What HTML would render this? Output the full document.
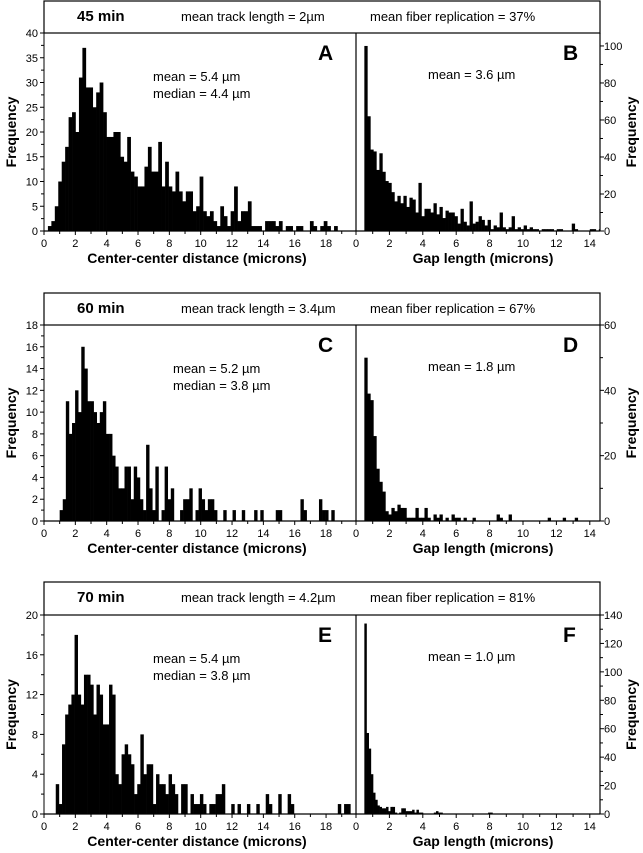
<!DOCTYPE html>
<html><head><meta charset="utf-8"><style>
html,body{margin:0;padding:0;background:#fff;}
svg{display:block;font-family:"Liberation Sans",Arial,sans-serif;}
</style></head><body>
<svg id="fig" width="643" height="853" viewBox="0 0 643 853" xmlns="http://www.w3.org/2000/svg"></svg>
<script>
const aStart = 0.25, aBin = 0.22;
const aValues = [1,2,5,10,14,17,23,24,20,31,37,29,29,25,28,30,24,19,19,20,20,15,14,19,12,11,9,9,13,17,12,12,18,9,14,9,8,12,8,6,8,8,4,5,11,4,3,4,2,1,5,3,1,4,9,2,4,4,6,1,1,1,0,2,2,2,1,2,0,1,1,0,1,1,0,0,2,1,0,1,2,1,0,1];
const bStart = 0.5, bBin = 0.18;
const bValues = [100,62,44,43,33,42,32,27,26,21,16,19,15,19,13,18,17,10,26,8,12,12,10,15,9,13,7,11,10,10,8,4,12,5,3,16,4,5,8,6,3,6,1,3,2,10,2,1,2,8,1,2,1,3,1,2,1,1,0,1,1,1,1,0,1,1,0,0,0,4,1,0,0,0,0,1,1,0,1];
const cStart = 1.0, cBin = 0.197;
const cValues = [1,2,11,8,9,12,10,16,14,11,11,10,9,10,11,8,8,6,5,3,3,5,5,2,5,4,2,1,7,3,1,5,0,1,5,2,3,0,0,1,2,2,3,0,1,3,2,1,2,2,1,0,0,1,0,0,1,0,0,1,0,0,0,1,0,1,0,0,0,0,1,1,0,0,0,0,0,0,2,1,0,0,0,0,2,1,1,0,1];
const dStart = 0.5, dBin = 0.18;
const dValues = [50,39,37,26,16,12,9,3,2,4,3,5,4,4,1,1,1,4,1,1,4,1,0,2,1,2,0,1,0,2,1,1,0,1,0,0,1,0,0,0,0,0,0,0,2,1,0,0,2,0,0,0,0,0,0,0,0,0,0,0,0,1,0,0,0,0,1,0,0,0,1,0,0,0,0,0,0,0,0,0,0];
const eStart = 0.75, eBin = 0.2;
const eValues = [3,1,7,10,11,12,18,12,11,14,14,13,10,13,12,9,9,13,12,4,3,6,7,6,5,2,3,8,4,5,5,1,4,3,3,2,4,3,2,0,3,3,0,2,1,1,2,1,0,1,1,2,2,3,0,0,1,0,1,0,0,1,0,0,1,0,0,2,1,0,0,2,0,0,2,1,0,0,0,0,0,0,0,0,0,0,0,0,0,0,1,0,1,1];
const fStart = 0.5, fBin = 0.13;
const fValues = [134,57,46,28,15,10,6,5,4,4,5,2,5,5,1,0,1,4,4,2,2,2,3,1,3,1,1,0,0,0,0,0,1,2,1,1,0,0,0,0,0,0,0,0,0,0,0,0,0,0,0,0,0,0,0,0,0,1,1];
const leftTicksA = [0,5,10,15,20,25,30,35,40];
const leftTicksC = [0,2,4,6,8,10,12,14,16,18];
const leftTicksE = [0,4,8,12,16,20];
const rightTicksB = [0,20,40,60,80,100];
const rightTicksD = [0,20,40,60];
const rightTicksF = [0,20,40,60,80,100,120,140];
const xTicksLeft = [0,2,4,6,8,10,12,14,16,18];
const xTicksRight = [0,2,4,6,8,10,12,14];
const times = ["45 min","60 min","70 min"];
const trackLen = ["2µm","3.4µm","4.2µm"];
const fiberRep = ["37%","67%","81%"];

const NS="http://www.w3.org/2000/svg";
const svg=document.getElementById('fig');
function el(tag,attrs,parent,text){const e=document.createElementNS(NS,tag);for(const k in attrs)e.setAttribute(k,attrs[k]);if(text!==undefined)e.textContent=text;(parent||svg).appendChild(e);return e;}

const LX0=44, LX1=356, RX0=356, RX1=600;
const lxScale=v=>LX0+v*15.67;
const rxScale=v=>RX0+v*16.7;

function panel(idx,top,axTop,axBot,lMax,lTicks,lMinor,rMax,rTicks,rMinor,lStart,lBin,lVals,rStart,rBin,rVals,lLetter,rLetter,lMean,lMedian,rMean){
  const g=el('g',{});
  
  
  const ly=v=>axBot-v*(axBot-axTop)/lMax;
  const ry=v=>axBot-v*(axBot-axTop)/rMax;
  const hb=el('rect',{x:LX0,y:top,width:RX1-LX0,height:axTop-top,fill:'none',stroke:'#000','stroke-width':1.2},g);
  
  const t1=el('text',{x:77,y:top+20,'font-size':15,'font-weight':'bold'},g,times[idx]);
  
  const t2=el('text',{x:181,y:top+20,'font-size':13},g,'mean track length = '+trackLen[idx]);
  
  const t3=el('text',{x:370,y:top+20,'font-size':13},g,'mean fiber replication = '+fiberRep[idx]);
  
  lVals.forEach((v,i)=>{ if(v<=0)return; const x0=lxScale(lStart+i*lBin), x1=lxScale(lStart+(i+1)*lBin);
    const r=el('rect',{x:x0,y:ly(v),width:x1-x0+0.3,height:axBot-ly(v),fill:'#000'},g);
    });
  rVals.forEach((v,i)=>{ if(v<=0)return; const x0=rxScale(rStart+i*rBin), x1=rxScale(rStart+(i+1)*rBin);
    if(x0>=RX1)return;
    const r=el('rect',{x:x0,y:ry(v),width:Math.min(x1-x0+0.3,RX1-x0),height:axBot-ry(v),fill:'#000'},g);
    });
  el('line',{x1:LX0,y1:axBot,x2:RX1,y2:axBot,stroke:'#000','stroke-width':1.2},g);
  el('line',{x1:LX0,y1:axTop,x2:LX0,y2:axBot,stroke:'#000','stroke-width':1},g);
  el('line',{x1:RX0,y1:axTop,x2:RX0,y2:axBot,stroke:'#000','stroke-width':1.2},g);
  el('line',{x1:RX1,y1:axTop,x2:RX1,y2:axBot,stroke:'#000','stroke-width':1.2},g);
  lTicks.forEach(v=>{el('line',{x1:LX0-4,y1:ly(v),x2:LX0,y2:ly(v),stroke:'#000'},g);
    const t=el('text',{x:LX0-6,y:ly(v)+4,'font-size':11,'text-anchor':'end'},g,v);
    });
  for(let v=lMinor;v<lMax;v+=lMinor*2) el('line',{x1:LX0-3,y1:ly(v),x2:LX0,y2:ly(v),stroke:'#000'},g);
  rTicks.forEach(v=>{el('line',{x1:RX1,y1:ry(v),x2:RX1+4,y2:ry(v),stroke:'#000'},g);
    const t=el('text',{x:RX1+4,y:ry(v)+4,'font-size':11},g,v);
    });
  for(let v=rMinor;v<rMax;v+=rMinor*2) el('line',{x1:RX1,y1:ry(v),x2:RX1+3,y2:ry(v),stroke:'#000'},g);
  xTicksLeft.forEach(v=>{const x=lxScale(v);el('line',{x1:x,y1:axBot,x2:x,y2:axBot+4,stroke:'#000'},g);
    el('line',{x1:lxScale(v+1),y1:axBot,x2:lxScale(v+1),y2:axBot+3,stroke:'#000'},g);
    const t=el('text',{x:x,y:axBot+16,'font-size':11,'text-anchor':'middle'},g,v);
    });
  xTicksRight.forEach(v=>{const x=rxScale(v);el('line',{x1:x,y1:axBot,x2:x,y2:axBot+4,stroke:'#000'},g);
    if(v<14)el('line',{x1:rxScale(v+1),y1:axBot,x2:rxScale(v+1),y2:axBot+3,stroke:'#000'},g);
    const t=el('text',{x:x,y:axBot+16,'font-size':11,'text-anchor':'middle'},g,v);
    });
  const xt=el('text',{x:197,y:axBot+32,'font-size':14,'font-weight':'bold','text-anchor':'middle'},g,'Center-center distance  (microns)');
  
  const xt2=el('text',{x:483,y:axBot+32,'font-size':14,'font-weight':'bold','text-anchor':'middle'},g,'Gap length (microns)');
  
  const cy=(axTop+axBot)/2;
  const yt=el('text',{x:0,y:0,'font-size':14,'font-weight':'bold','text-anchor':'middle',transform:`translate(16,${cy}) rotate(-90)`},g,'Frequency');
  
  const yt2=el('text',{x:0,y:0,'font-size':14,'font-weight':'bold','text-anchor':'middle',transform:`translate(636,${cy}) rotate(-90)`},g,'Frequency');
  
  const la=el('text',{x:318,y:axTop+27,'font-size':21,'font-weight':'bold'},g,lLetter);
  
  const lb=el('text',{x:563,y:axTop+27,'font-size':21,'font-weight':'bold'},g,rLetter);
  
  const mx = idx==1?173:153;
  const m1=el('text',{x:mx,y:axTop+48,'font-size':13},g,'mean = '+lMean);
  
  const m2=el('text',{x:mx,y:axTop+65,'font-size':13},g,'median = '+lMedian);
  
  const m3=el('text',{x:428,y:axTop+46,'font-size':13},g,'mean = '+rMean);
  
}
panel(0,1,33,231,40,leftTicksA,2.5,107,rightTicksB,10,aStart,aBin,aValues,bStart,bBin,bValues,'A','B','5.4 µm','4.4 µm','3.6 µm');
panel(1,293,325,521,18,leftTicksC,1,60,rightTicksD,10,cStart,cBin,cValues,dStart,dBin,dValues,'C','D','5.2 µm','3.8 µm','1.8 µm');
panel(2,582,615,814,20,leftTicksE,2,140,rightTicksF,10,eStart,eBin,eValues,fStart,fBin,fValues,'E','F','5.4 µm','3.8 µm','1.0 µm');
</script>
</body></html>
